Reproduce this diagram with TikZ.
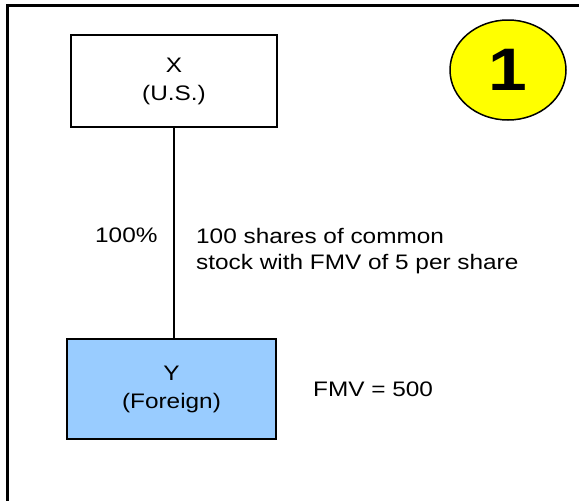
\documentclass[tikz,border=0pt]{standalone}
\usepackage{fontspec}
\setmainfont[FakeStretch=1.16]{Liberation Sans}
\usetikzlibrary{shapes.geometric}
\definecolor{ybox}{HTML}{99CCFF}
\definecolor{badge}{HTML}{FFFF00}
\begin{document}
\begin{tikzpicture}[x=1pt,y=-1pt,
  ent/.style={draw=black,line width=1.3pt,inner sep=0pt,align=center,
    font=\fontsize{21}{28}\selectfont},
  lbl/.style={inner sep=0pt,font=\fontsize{21}{26}\selectfont},
  conn/.style={draw=black,line width=1.3pt}]
\useasboundingbox (0,0) rectangle (579,501);
\draw[line width=3pt] (7.5,501) -- (7.5,5.5) -- (579,5.5);
\node[ent,fill=white,minimum width=206,minimum height=92] (x) at (174,81) {X\\(U.S.)};
\node[ent,fill=ybox,minimum width=209,minimum height=100] (y) at (171.5,389) {Y\\(Foreign)};
\node[ellipse,draw=black,line width=1.5pt,fill=badge,minimum width=116,minimum height=100,inner sep=0pt,
  font=\fontsize{60}{62}\selectfont\bfseries] (one) at (508,70) {1};
\draw[conn] (x.south -| 174,0) -- (y.north -| 174,0);
\node[lbl,anchor=base west] (pct) at (95,242) {100\%};
\node[lbl,anchor=base west,align=left] (shares) at (196,269) {100 shares of common\\stock with FMV of 5 per share};
\node[lbl,anchor=base west] (fmv) at (313,396) {FMV = 500};
\end{tikzpicture}
\end{document}
